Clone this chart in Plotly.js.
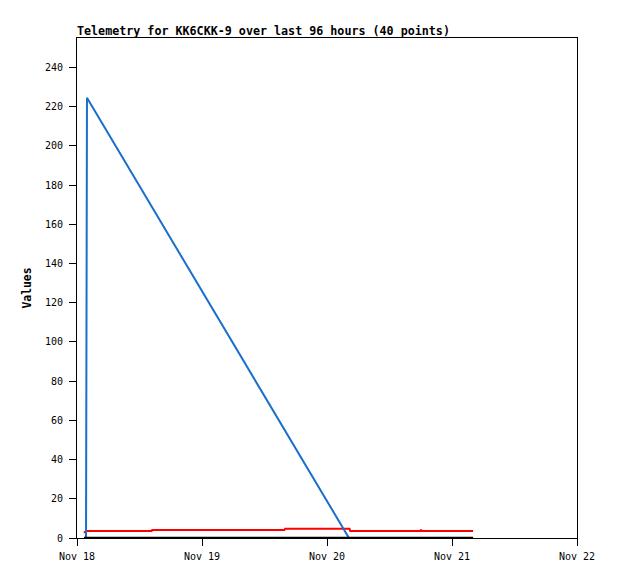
<!DOCTYPE html>
<html>
<head>
<meta charset="utf-8">
<script src="https://cdn.plot.ly/plotly-3.0.1.min.js"></script>
<style>html,body{margin:0;padding:0;background:#fff;}#chart{width:618px;height:579px;}</style>
</head>
<body>
<div id="chart"></div>
<script>
// Series
const blueTimes = ["2024-11-18 01:44", "2024-11-18 01:46", "2024-11-18 01:55", "2024-11-20 04:13"];
const blueValues = [0, 112, 224.5, 0];

const redTimes = ["2024-11-18 01:20", "2024-11-18 01:44", "2024-11-18 14:20", "2024-11-18 14:26",
                  "2024-11-19 15:50", "2024-11-19 15:58", "2024-11-20 04:20", "2024-11-20 04:28",
                  "2024-11-20 17:58", "2024-11-20 18:03", "2024-11-20 18:10", "2024-11-21 04:03"];
const redValues = [2.7, 3.6, 3.6, 4.1, 4.1, 4.7, 4.7, 3.6, 3.6, 4.3, 3.6, 3.6];

const blackTimes = ["2024-11-18 01:20", "2024-11-21 04:03"];
const blackValues = [0, 0];

const xTickVals = ["2024-11-18", "2024-11-19", "2024-11-20", "2024-11-21", "2024-11-22"];
const xTickText = ["Nov 18", "Nov 19", "Nov 20", "Nov 21", "Nov 22"];
const yTickVals = [0, 20, 40, 60, 80, 100, 120, 140, 160, 180, 200, 220, 240];

const FONT = "DejaVu Sans Mono, Liberation Mono, monospace";

const traces = [
  {x: redTimes, y: redValues, type: "scatter", mode: "lines", line: {color: "#ff0000", width: 2}, hoverinfo: "skip"},
  {x: blueTimes, y: blueValues, type: "scatter", mode: "lines", line: {color: "#1a6fcc", width: 2}, hoverinfo: "skip"},
  {x: blackTimes, y: blackValues, type: "scatter", mode: "lines", line: {color: "#000000", width: 2.5}, hoverinfo: "skip"}
];

const layout = {
  width: 618, height: 579,
  margin: {l: 77, r: 41, t: 38, b: 41, pad: 0},
  paper_bgcolor: "#ffffff", plot_bgcolor: "#ffffff",
  showlegend: false,
  font: {family: FONT, size: 10, color: "#000"},
  title: {
    text: "<b>Telemetry for KK6CKK-9 over last 96 hours (40 points)</b>",
    font: {family: FONT, size: 11.7, color: "#000"},
    x: 77/618, xref: "container", xanchor: "left",
    y: 1 - 35/579, yref: "container", yanchor: "bottom"
  },
  xaxis: {
    type: "date",
    range: ["2024-11-18 00:00", "2024-11-22 00:00"],
    tickmode: "array", tickvals: xTickVals, ticktext: xTickText,
    ticks: "outside", ticklen: 7, tickwidth: 1, tickcolor: "#000",
    ticklabelstandoff: 2,
    showline: true, linecolor: "#000", linewidth: 1, mirror: true,
    showgrid: false, zeroline: false,
    tickfont: {family: FONT, size: 10, color: "#000"}
  },
  yaxis: {
    range: [0, 255],
    tickmode: "array", tickvals: yTickVals,
    ticks: "outside", ticklen: 7, tickwidth: 1, tickcolor: "#000",
    ticklabelstandoff: 4,
    showline: true, linecolor: "#000", linewidth: 1, mirror: true,
    showgrid: false, zeroline: false,
    tickfont: {family: FONT, size: 10, color: "#000"},
    title: {text: "<b>Values</b>", font: {family: FONT, size: 11.4, color: "#000"}, standoff: 10}
  }
};

Plotly.newPlot("chart", traces, layout, {displayModeBar: false, staticPlot: true});
</script>
</body>
</html>
